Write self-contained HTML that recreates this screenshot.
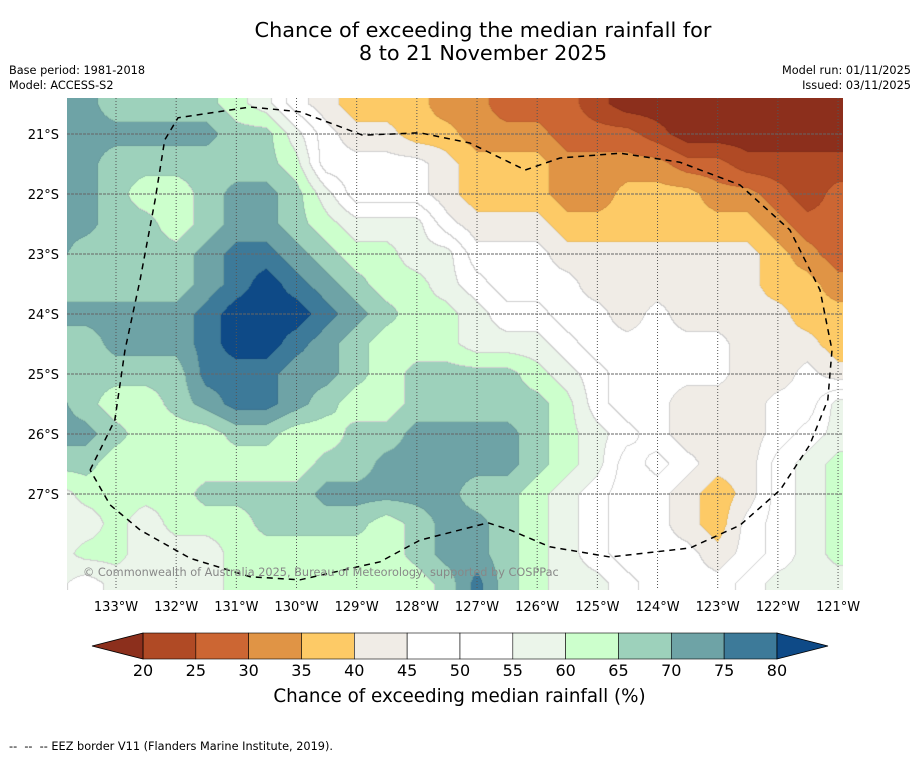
<!DOCTYPE html>
<html><head><meta charset="utf-8"><style>
body{margin:0;width:919px;height:758px;background:#fff;font-family:"DejaVu Sans",sans-serif;position:relative;overflow:hidden}
.t{position:absolute;white-space:nowrap;color:#000}
</style></head><body>
<div class="t" style="left:0;width:966px;text-align:center;top:19px;font-size:20.8px;line-height:23px">Chance of exceeding the median rainfall for<br>8 to 21 November 2025</div>
<div class="t" style="left:9px;top:63px;font-size:11.3px;line-height:15px">Base period: 1981-2018<br>Model: ACCESS-S2</div>
<div class="t" style="right:8px;top:63px;font-size:11.3px;line-height:15px;text-align:right">Model run: 01/11/2025<br>Issued: 03/11/2025</div>
<canvas id="map" width="776" height="492" style="position:absolute;left:67px;top:98px"></canvas>
<svg id="ov" width="919" height="758" style="position:absolute;left:0;top:0"></svg>
<div class="t" style="left:83px;top:566px;font-size:11.3px;color:#888">© Commonwealth of Australia 2025, Bureau of Meteorology, supported by COSPPac</div>
<div class="t" style="left:0;width:919px;text-align:center;top:686px;font-size:18.3px">Chance of exceeding median rainfall (%)</div>
<div class="t" style="left:9px;top:740px;font-size:11.3px">--&nbsp; --&nbsp; -- EEZ border V11 (Flanders Marine Institute, 2019).</div>
<script>
const lonTicks=[133,132,131,130,129,128,127,126,125,124,123,122,121];
const latTicks=[21,22,23,24,25,26,27];
const cbTicks=[20,25,30,35,40,45,50,55,60,65,70,75,80];
const cbColors=['#8c2f1c','#b04a25','#cc6633','#e09445','#fdca66','#f0ece6','#ffffff','#ffffff','#ebf5ea','#ccffcc','#9dd1bb','#6ea3a6','#3d7a99','#0e4a87'];
const gridLons=[134,133.5,133,132.5,132,131.5,131,130.5,130,129.5,129,128.5,128,127.5,127,126.5,126,125.5,125,124.5,124,123.5,123,122.5,122,121.5,121,120.5];
const gridLats=[20.5,21,21.5,22,22.5,23,23.5,24,24.5,25,25.5,26,26.5,27,27.5,28,28.5];
const grid=[
[72,72,67,67,67,67,62,57,47,42,37,37,37,32,32,27,27,27,22,17,17,17,17,17,17,17,17,17],
[72,72,72,72,72,72,67,67,57,47,42,42,37,37,32,32,32,27,27,27,22,17,17,17,17,17,17,17],
[72,72,67,67,67,67,67,67,62,47,47,47,47,42,37,37,37,32,32,32,32,27,27,22,22,22,22,22],
[72,72,67,62,62,67,72,72,67,57,47,47,47,42,37,37,37,32,32,37,37,37,32,32,27,22,27,27],
[72,72,67,67,62,67,72,72,67,62,57,57,57,47,42,42,42,37,37,37,37,37,37,37,32,27,27,27],
[72,67,67,67,67,72,77,77,72,67,62,62,57,57,47,47,47,42,42,42,42,42,42,42,37,32,27,27],
[67,67,67,67,67,72,77,83,77,72,67,62,62,57,52,47,47,47,42,42,42,42,42,42,37,37,32,32],
[72,72,72,72,72,77,83,83,83,77,72,67,62,62,57,52,52,47,47,42,47,42,42,42,42,37,37,37],
[67,67,72,72,72,77,83,83,77,72,67,62,62,62,57,57,57,52,47,47,47,47,47,42,42,42,37,37],
[67,67,67,67,67,77,77,77,72,72,67,62,67,67,67,67,62,57,52,47,47,47,47,42,42,47,42,42],
[72,67,62,62,67,72,77,77,72,67,62,62,67,67,67,67,67,62,52,47,47,42,42,42,47,47,57,57],
[72,72,67,62,62,62,67,67,62,62,67,67,72,72,72,72,67,62,57,52,47,42,42,42,47,52,57,57],
[67,67,62,62,62,62,62,62,62,67,67,72,72,72,72,72,67,62,57,47,52,47,42,42,52,57,62,62],
[57,62,62,62,62,67,67,67,67,72,72,72,72,72,67,67,62,57,52,47,47,42,37,42,52,57,62,62],
[57,57,62,57,62,62,62,67,67,67,67,62,67,72,72,67,62,57,52,47,47,42,37,47,52,57,62,62],
[57,62,62,57,57,57,62,62,62,62,62,62,67,72,72,67,62,57,52,47,47,47,42,47,52,57,62,62],
[57,52,57,57,57,57,62,62,62,62,62,62,62,67,77,67,62,57,57,52,47,47,47,52,57,57,57,57]];
const eez=[[133.43,26.6],[133.02,25.77],[132.85,24.6],[132.6,23.43],[132.35,22.1],[132.19,21.1],[131.97,20.73],[130.77,20.55],[129.94,20.63],[128.9,21.02],[127.95,20.98],[127.12,21.15],[126.2,21.6],[125.62,21.4],[124.62,21.32],[123.63,21.47],[122.63,21.85],[121.8,22.6],[121.3,23.6],[121.1,24.6],[121.17,25.43],[121.47,26.18],[121.96,26.93],[122.63,27.52],[123.46,27.9],[124.79,28.05],[125.79,27.88],[126.45,27.6],[126.82,27.48],[127.95,27.77],[128.61,28.13],[129.94,28.43],[130.77,28.38],[131.77,28.07],[132.6,27.6],[133.1,27.18],[133.43,26.6]];
const X=lon=>116+(133-lon)*60.17, Y=lat=>134+(lat-21)*60;
const LON=x=>133-(x-116)/60.17, LAT=y=>21+(y-134)/60;
function val(lon,lat){
  let fi=(gridLons[0]-lon)/0.5, fj=(lat-gridLats[0])/0.5;
  fi=Math.max(0,Math.min(gridLons.length-1.001,fi));fj=Math.max(0,Math.min(gridLats.length-1.001,fj));
  const i=Math.floor(fi),j=Math.floor(fj),a=fi-i,b=fj-j;
  return grid[j][i]*(1-a)*(1-b)+grid[j][i+1]*a*(1-b)+grid[j+1][i]*(1-a)*b+grid[j+1][i+1]*a*b;
}
function band(v){let k=0;while(k<cbTicks.length&&v>=cbTicks[k])k++;return k;}
const hex=h=>[parseInt(h.slice(1,3),16),parseInt(h.slice(3,5),16),parseInt(h.slice(5,7),16)];
const rgb=cbColors.map(hex);
const cv=document.getElementById('map'),ctx=cv.getContext('2d'),W=776,H=492;
const B=new Int8Array(W*H);
for(let y=0;y<H;y++)for(let x=0;x<W;x++)B[y*W+x]=band(val(LON(x+67.5),LAT(y+98.5)));
const img=ctx.createImageData(W,H);
for(let y=0;y<H;y++)for(let x=0;x<W;x++){
  const k=B[y*W+x];let c=rgb[k];
  const r=x<W-1?B[y*W+x+1]:k,d=y<H-1?B[(y+1)*W+x]:k;
  if((r!==k||d!==k)&&k>=5&&k<=9&&Math.min(k,r,d)>=5)c=[208,208,208];
  else if(r!==k||d!==k)c=c.map(v=>v*0.93);
  const p=(y*W+x)*4;img.data[p]=c[0];img.data[p+1]=c[1];img.data[p+2]=c[2];img.data[p+3]=255;
}
ctx.putImageData(img,0,0);
const NS='http://www.w3.org/2000/svg',ov=document.getElementById('ov');
function mk(t,a,parent){const e=document.createElementNS(NS,t);for(const k in a)e.setAttribute(k,a[k]);(parent||ov).appendChild(e);return e;}
lonTicks.forEach(l=>{
  const e=mk('line',{x1:X(l),x2:X(l),y1:98,y2:590,stroke:'#555','stroke-width':1,'stroke-dasharray':'1,2'});
  
  
  const t=mk('text',{x:X(l),y:611,'font-size':13,'text-anchor':'middle','font-family':'DejaVu Sans'});t.textContent=l+'°W';
  
  
});
latTicks.forEach(l=>{
  const e=mk('line',{x1:67,x2:843,y1:Y(l),y2:Y(l),stroke:'#666','stroke-width':1,'stroke-dasharray':'3,1'});
  
  
  const t=mk('text',{x:59,y:Y(l)+5,'font-size':13,'text-anchor':'end','font-family':'DejaVu Sans'});t.textContent=l+'°S';
  
  
});
const ep=mk('path',{d:'M'+eez.map(p=>X(p[0]).toFixed(1)+','+Y(p[1]).toFixed(1)).join('L'),fill:'none',stroke:'#000','stroke-width':1.5,'stroke-dasharray':'6,5'});


const cx0=143,cw=52.83,cy=633,ch=26;
const cbx=v=>cx0+(v-20)/5*cw;
for(let k=0;k<12;k++){
  const r=mk('rect',{x:cbx(cbTicks[k]),y:cy,width:cw,height:ch,fill:cbColors[k+1],stroke:'#000','stroke-width':0.6});
  
  
}
const tl=mk('polygon',{points:`92,${cy+ch/2} ${cx0},${cy} ${cx0},${cy+ch}`,fill:cbColors[0],stroke:'#000','stroke-width':0.8});


const tr=mk('polygon',{points:`${cbx(80)},${cy} 828,${cy+ch/2} ${cbx(80)},${cy+ch}`,fill:cbColors[13],stroke:'#000','stroke-width':0.8});


cbTicks.forEach(v=>{
  const t=mk('text',{x:cbx(v),y:676,'font-size':16,'text-anchor':'middle','font-family':'DejaVu Sans'});t.textContent=v;
  
  
});
</script>
</body></html>
